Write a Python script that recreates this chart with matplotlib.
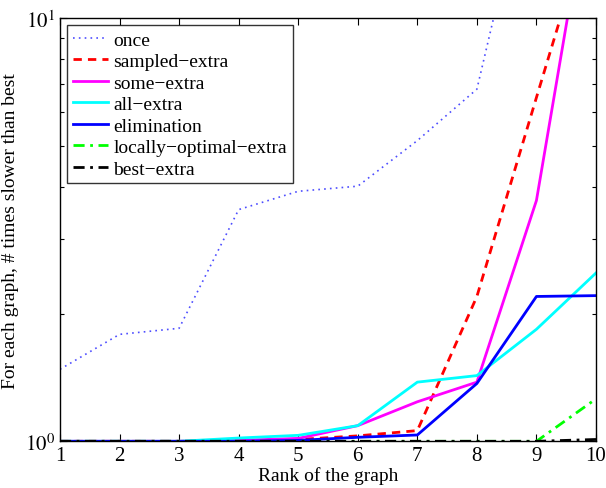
import matplotlib
matplotlib.use("Agg")
import matplotlib.pyplot as plt
from matplotlib.ticker import NullFormatter, FixedLocator

plt.rcParams['font.family'] = ['Liberation Serif', 'DejaVu Serif']
plt.rcParams['mathtext.fontset'] = 'stix'

rank = [1, 2, 3, 4, 5, 6, 7, 8, 9, 10]

once = [1.48, 1.79, 1.85, 3.53, 3.90, 4.01, 5.14, 6.8, 27.0, 27.0]
sampled_extra = [1.0, 1.0, 1.0, 1.0, 1.01, 1.03, 1.06, 2.2, 6.5, 19.0]
some_extra = [1.0, 1.0, 1.0, 1.005, 1.016, 1.089, 1.24, 1.38, 3.71, 25.0]
all_extra = [1.0, 1.0, 1.0, 1.018, 1.033, 1.089, 1.38, 1.43, 1.84, 2.50]
elimination = [1.0, 1.0, 1.0, 1.0, 1.005, 1.022, 1.035, 1.37, 2.20, 2.21]
locally_optimal_extra = [1.0, 1.0, 1.0, 1.0, 1.0, 1.0, 1.0, 1.0, 1.0, 1.26]
best_extra = [1.0, 1.0, 1.0, 1.0, 1.0, 1.0, 1.0, 1.0, 1.0, 1.01]

series = [
    ("once", once, dict(color=(0.3, 0.3, 1.0), linestyle=(0, (1, 2.5)), linewidth=1.2)),
    ("sampled\u2212extra", sampled_extra, dict(color=(1, 0, 0), linestyle=(0, (3, 2.2)), linewidth=2)),
    ("some\u2212extra", some_extra, dict(color=(1, 0, 1), linestyle='-', linewidth=2)),
    ("all\u2212extra", all_extra, dict(color=(0, 1, 1), linestyle='-', linewidth=2)),
    ("elimination", elimination, dict(color=(0, 0, 1), linestyle='-', linewidth=2)),
    ("locally\u2212optimal\u2212extra", locally_optimal_extra,
     dict(color=(0, 1, 0), linestyle=(0, (4, 2, 1, 2)), linewidth=2)),
    ("best\u2212extra", best_extra, dict(color=(0, 0, 0), linestyle=(0, (4, 2, 1, 2)), linewidth=2)),
]

fig = plt.figure(figsize=(6.06, 4.89), dpi=100)
ax = fig.add_axes([0.099, 0.0955, 0.8845, 0.865])

for label, vals, style in series:
    ax.plot(rank, vals, label=label, **style)

ax.set_yscale('log')
ax.set_xlim(1, 10)
ax.set_ylim(1, 10)
ax.xaxis.set_major_locator(FixedLocator(rank))
ax.yaxis.set_major_locator(FixedLocator([1, 10]))
ax.yaxis.set_minor_locator(FixedLocator([2, 3, 4, 5, 6, 7, 8, 9]))
ax.yaxis.set_minor_formatter(NullFormatter())
ax.set_yticklabels([r'$10^{0}$', r'$10^{1}$'])

ax.tick_params(which='both', direction='in', top=True, right=True,
               labelsize=15, width=0.8)
ax.tick_params(which='major', length=5)
ax.tick_params(which='minor', length=3)
for sp in ax.spines.values():
    sp.set_linewidth(1.0)

ax.set_xlabel("Rank of the graph", fontsize=14, labelpad=1)
ax.set_ylabel("For each graph, # times slower than best", fontsize=14, labelpad=4)

leg = ax.legend(loc='upper left', fontsize=14, frameon=True, fancybox=False,
                edgecolor='black', handlelength=1.8, handletextpad=0.3,
                labelspacing=0.2, borderpad=0.3, borderaxespad=0.35)
leg.get_frame().set_linewidth(1.0)

fig.savefig("out.png", dpi=100)
